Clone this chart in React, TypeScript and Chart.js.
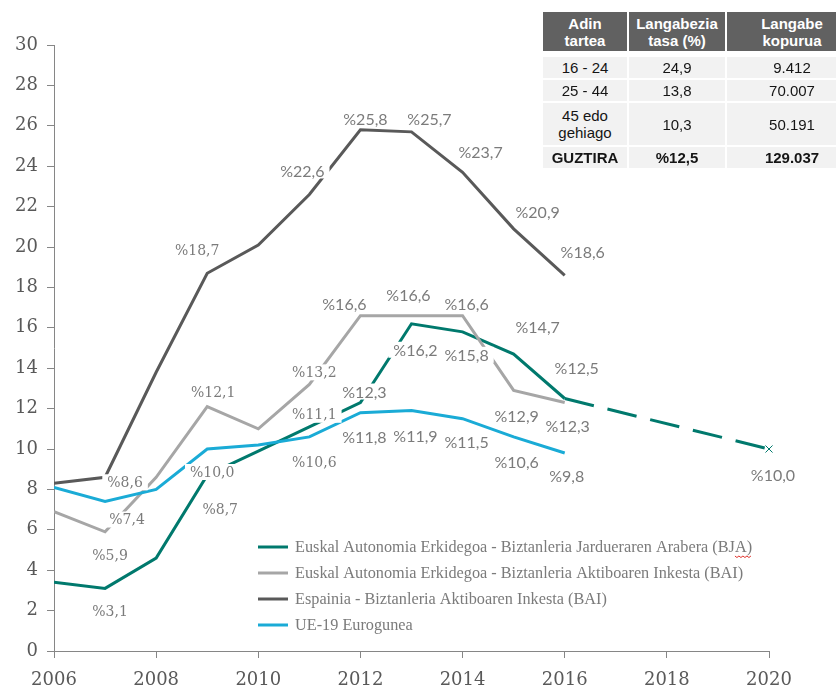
import React, { useEffect, useRef } from "react";
import { Chart, registerables } from "chart.js";

Chart.register(...registerables);

// ---------------- DATA ----------------
const years = [2006, 2007, 2008, 2009, 2010, 2011, 2012, 2013, 2014, 2015, 2016];
const bjaEAE = [3.4, 3.1, 4.6, 8.7, 9.9, 11.1, 12.3, 16.2, 15.8, 14.7, 12.5];
const baiEAE = [6.9, 5.9, 8.6, 12.1, 11.0, 13.2, 16.6, 16.6, 16.6, 12.9, 12.3];
const baiSpain = [8.3, 8.6, 13.8, 18.7, 20.1, 22.6, 25.8, 25.7, 23.7, 20.9, 18.6];
const euro19 = [8.1, 7.4, 8.0, 10.0, 10.2, 10.6, 11.8, 11.9, 11.5, 10.6, 9.8];
const projYears = [2016, 2020];
const projValues = [12.5, 10.0];

const xTicks = [2006, 2008, 2010, 2012, 2014, 2016, 2018, 2020];

const legendNames = [
  "Euskal Autonomia Erkidegoa - Biztanleria Jardueraren Arabera (BJA)",
  "Euskal Autonomia Erkidegoa - Biztanleria Aktiboaren Inkesta (BAI)",
  "Espainia - Biztanleria Aktiboaren Inkesta (BAI)",
  "UE-19 Eurogunea",
];

const tableHeader = [["Adin", "tartea"], ["Langabezia", "tasa (%)"], ["Langabe", "kopurua"]];
const tableAges = [["16 - 24"], ["25 - 44"], ["45 edo", "gehiago"], ["GUZTIRA"]];
const tableRates = ["24,9", "13,8", "10,3", "%12,5"];
const tableCounts = ["9.412", "70.007", "50.191", "129.037"];

// ---------------- STYLES ----------------
const TEAL = "#00796d";
const LGRAY = "#a6a6a6";
const DGRAY = "#595959";
const CYAN = "#1aabd6";
const LABEL_COLOR = "#7b7b7b";
const SERIF = '"DejaVu Serif", serif';
const LEGEND_SERIF = '"Liberation Serif", serif';
const SANS = 'Lato, "Open Sans", sans-serif';

// label placement: [year, dx, dy, serif?] offsets in px from the point
type Place = [number, number, number, boolean];
const placeSpain: Place[] = [
  [2007, 20, 5, true],
  [2009, -10, -23, true],
  [2011, -7, -24, false],
  [2012, 5, -11, false],
  [2013, 18, -13, false],
  [2014, 18, -20, false],
  [2015, 24, -17, false],
  [2016, 18, -23, false],
];
const placeBAI: Place[] = [
  [2007, 5, 24, true],
  [2009, 6, -14, true],
  [2011, 5, -12, true],
  [2012, -16, -12, false],
  [2013, -3, -21, false],
  [2014, 4, -12, false],
  [2015, 3, 25, false],
  [2016, 3, 23, false],
];
const placeBJA: Place[] = [
  [2007, 5, 23, true],
  [2009, 13, 34, true],
  [2011, 5, -12, true],
  [2012, 4, -11, false],
  [2013, 4, 26, false],
  [2014, 4, 23, false],
  [2015, 24, -27, false],
  [2016, 12, -31, false],
];
const placeEuro: Place[] = [
  [2007, 22, 18, true],
  [2009, 5, 23, true],
  [2011, 5, 25, true],
  [2012, 4, 24, false],
  [2013, 4, 25, false],
  [2014, 4, 23, false],
  [2015, 3, 25, false],
  [2016, 2, 23, false],
];
const placeProj: Place[] = [[2020, 4, 26, false]];

const fmt = (v: number) => "%" + v.toFixed(1).replace(".", ",");

const pts = (xs: number[], ys: number[]) => xs.map((x, i) => ({ x, y: ys[i] }));

const labelPlugin = {
  id: "pctLabels",
  afterDatasetsDraw(chart: any) {
    const { ctx } = chart;
    const xs = chart.scales.x;
    const ys = chart.scales.y;
    const groups: [number[], number[], Place[]][] = [
      [years, baiSpain, placeSpain],
      [years, baiEAE, placeBAI],
      [years, bjaEAE, placeBJA],
      [years, euro19, placeEuro],
      [projYears, projValues, placeProj],
    ];
    const items: any[] = [];
    ctx.save();
    for (const [xv, yv, places] of groups) {
      for (const [yr, dx, dy, serif] of places) {
        const i = xv.indexOf(yr);
        const v = yv[i];
        const px = xs.getPixelForValue(yr);
        const py = ys.getPixelForValue(v);
        const font = serif ? `14px ${SERIF}` : `16px ${SANS}`;
        ctx.font = font;
        const text = fmt(v);
        const w = ctx.measureText(text).width;
        items.push({ cx: px + dx, cy: py + dy, text, font, w });
      }
    }
    ctx.fillStyle = "#ffffff";
    for (const it of items) ctx.fillRect(it.cx - it.w / 2 - 5, it.cy - 8, it.w + 10, 16);
    ctx.fillStyle = LABEL_COLOR;
    ctx.textAlign = "center";
    ctx.textBaseline = "middle";
    for (const it of items) {
      ctx.font = it.font;
      ctx.fillText(it.text, it.cx, it.cy + 1);
    }
    ctx.restore();
  },
  afterDraw(chart: any) {
    const { ctx } = chart;
    const colors = [TEAL, LGRAY, DGRAY, CYAN];
    ctx.save();
    let size = 19;
    for (; size > 8; size -= 0.25) {
      ctx.font = `${size}px ${LEGEND_SERIF}`;
      if (ctx.measureText(legendNames[0]).width <= 462) break;
    }
    ctx.font = `${size}px ${LEGEND_SERIF}`;
    ctx.textBaseline = "middle";
    ctx.textAlign = "left";
    const rows = [547, 573, 599, 625];
    legendNames.forEach((name, i) => {
      ctx.strokeStyle = colors[i];
      ctx.lineWidth = 3;
      ctx.beginPath();
      ctx.moveTo(258, rows[i]);
      ctx.lineTo(288, rows[i]);
      ctx.stroke();
      ctx.fillStyle = LABEL_COLOR;
      ctx.fillText(name, 295, rows[i] + 1);
    });
    // spell-check squiggle under "A)"
    const full = ctx.measureText(legendNames[0]).width;
    const pre = ctx.measureText(legendNames[0].slice(0, -2)).width;
    ctx.strokeStyle = "#e0312a";
    ctx.lineWidth = 1;
    ctx.beginPath();
    let up = true;
    for (let x = 295 + pre; x <= 295 + full; x += 2) {
      const yy = rows[0] + 9 + (up ? 0 : 1.5);
      if (x === 295 + pre) ctx.moveTo(x, yy);
      else ctx.lineTo(x, yy);
      up = !up;
    }
    ctx.stroke();
    ctx.restore();
  },
};

function DataTable() {
  const cols = [
    [543, 627],
    [629, 725],
    [727, 857],
  ];
  const rows = [
    [57, 78],
    [80, 101],
    [103, 145],
    [147, 168],
  ];
  const cell = (x0: number, x1: number, y0: number, y1: number, bg: string, content: React.ReactNode, key: string, bold: boolean, color: string) => (
    <div
      key={key}
      style={{
        position: "absolute",
        left: x0,
        top: y0,
        width: x1 - x0,
        height: y1 - y0,
        background: bg,
        display: "flex",
        flexDirection: "column",
        alignItems: "center",
        justifyContent: "center",
        fontFamily: '"Liberation Sans", Arial, sans-serif',
        fontSize: 15,
        lineHeight: "17px",
        fontWeight: bold ? 700 : 400,
        color,
        textAlign: "center",
        whiteSpace: "nowrap",
      }}
    >
      {content}
    </div>
  );
  const lines = (arr: string[]) => arr.map((t, i) => <div key={i}>{t}</div>);
  const out: React.ReactNode[] = [];
  tableHeader.forEach((h, c) => out.push(cell(cols[c][0], cols[c][1], 12, 51, "#616161", lines(h), "h" + c, true, "#ffffff")));
  rows.forEach((r, i) => {
    const bold = i === rows.length - 1;
    out.push(cell(cols[0][0], cols[0][1], r[0], r[1], "#f2f2f2", lines(tableAges[i]), "a" + i, bold, "#151515"));
    out.push(cell(cols[1][0], cols[1][1], r[0], r[1], "#f2f2f2", lines([tableRates[i]]), "r" + i, bold, "#151515"));
    out.push(cell(cols[2][0], cols[2][1], r[0], r[1], "#f2f2f2", lines([tableCounts[i]]), "c" + i, bold, "#151515"));
  });
  return <>{out}</>;
}

export default function App() {
  const ref = useRef<HTMLCanvasElement>(null);
  useEffect(() => {
    if (!ref.current) return;
    const chart = new Chart(ref.current, {
      type: "line",
      data: {
        datasets: [
          { label: legendNames[3], data: pts(years, euro19), borderColor: CYAN, borderWidth: 3, pointRadius: 0, tension: 0 },
          { label: legendNames[2], data: pts(years, baiSpain), borderColor: DGRAY, borderWidth: 3, pointRadius: 0, tension: 0 },
          { label: legendNames[1], data: pts(years, baiEAE), borderColor: LGRAY, borderWidth: 3, pointRadius: 0, tension: 0 },
          { label: legendNames[0], data: pts(years, bjaEAE), borderColor: TEAL, borderWidth: 3, pointRadius: 0, tension: 0 },
          {
            label: "proj",
            data: pts(projYears, projValues),
            borderColor: TEAL,
            borderWidth: 3,
            borderDash: [30, 14],
            pointRadius: [0, 5],
            pointStyle: "crossRot",
            pointBorderColor: TEAL,
            pointBorderWidth: 1,
            tension: 0,
            clip: false,
          },
        ],
      },
      options: {
        responsive: false,
        animation: false,
        layout: { padding: { top: 45, right: 67, left: 0, bottom: 0 } },
        plugins: { legend: { display: false }, tooltip: { enabled: false }, title: { display: false } },
        scales: {
          x: {
            type: "linear",
            min: 2006,
            max: 2020,
            afterFit: (s: any) => {
              s.height = 41;
            },
            afterBuildTicks: (s: any) => {
              s.ticks = xTicks.map((v) => ({ value: v }));
            },
            ticks: {
              callback: (v: any) => String(v),
              color: DGRAY,
              font: { family: SERIF, size: 18 },
              padding: 12,
              maxRotation: 0,
            },
            grid: { display: true, drawOnChartArea: false, drawTicks: true, tickLength: 7, color: "#868686" },
            border: { display: true, color: "#868686", width: 1 },
          },
          y: {
            min: 0,
            max: 30,
            afterFit: (s: any) => {
              s.width = 54;
            },
            ticks: {
              stepSize: 2,
              color: DGRAY,
              font: { family: SERIF, size: 18 },
              padding: 9,
            },
            grid: { display: true, drawOnChartArea: false, drawTicks: true, tickLength: 7, color: "#868686" },
            border: { display: true, color: "#868686", width: 1 },
          },
        },
      },
      plugins: [labelPlugin],
    } as any);
    return () => chart.destroy();
  }, []);
  return (
    <div style={{ position: "fixed", left: 0, top: 0, width: 836, height: 692, overflow: "hidden", background: "#fff" }}>
      <canvas ref={ref} width={836} height={692} style={{ display: "block", position: "absolute", left: 0, top: 0 }} />
      <DataTable />
    </div>
  );
}
